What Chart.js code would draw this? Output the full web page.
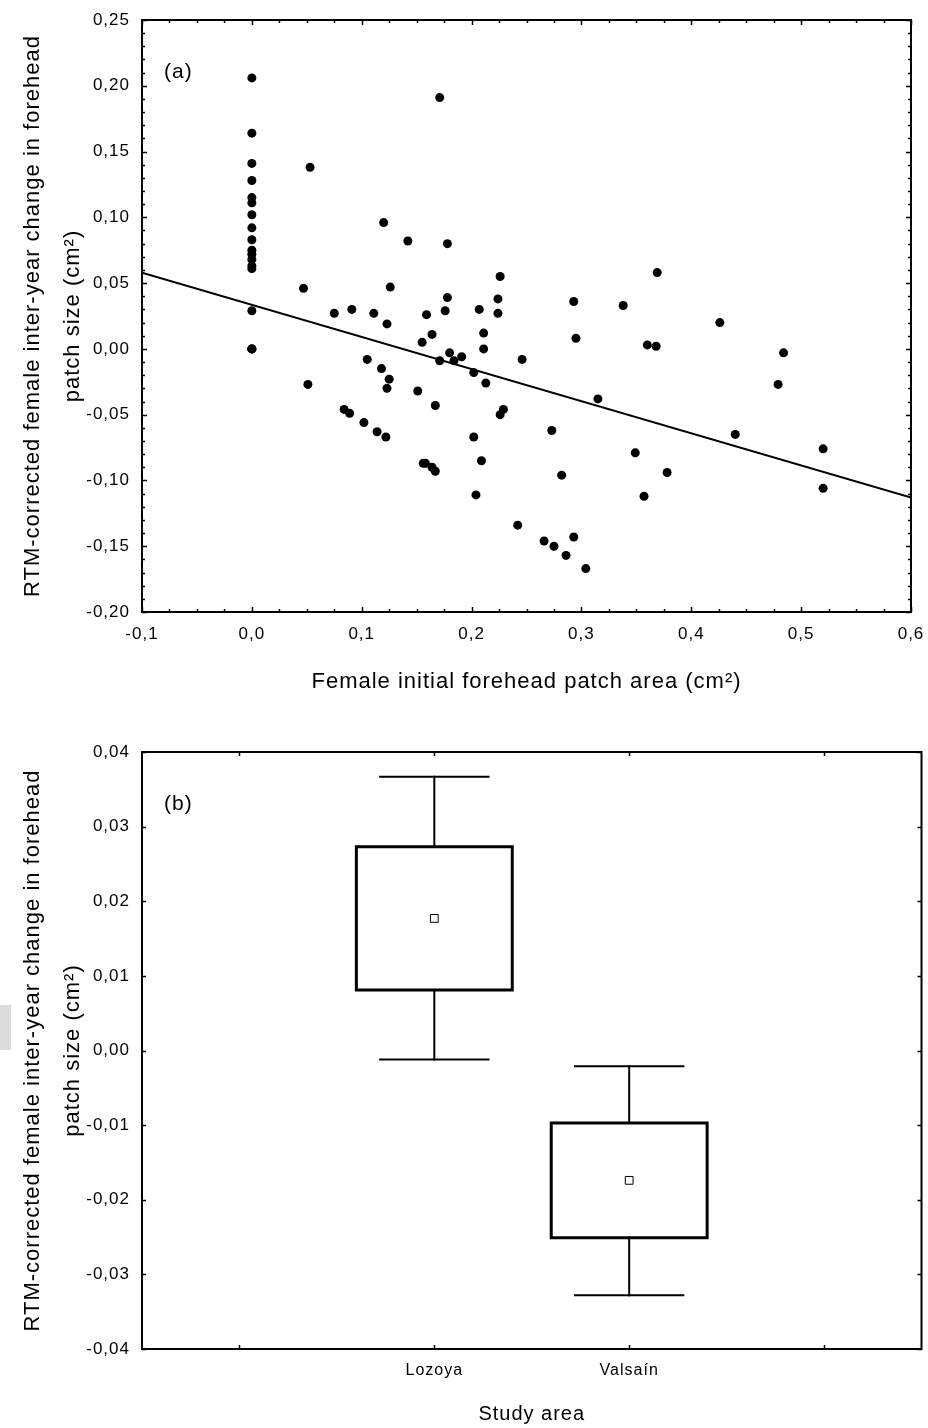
<!DOCTYPE html>
<html>
<head>
<meta charset="utf-8">
<script src="https://cdn.jsdelivr.net/npm/chart.js@4.4.1/dist/chart.umd.min.js"></script>
<style>
body { margin: 0; background: #fff; width: 928px; height: 1428px; position: relative; overflow: hidden; }
#topChart { position: absolute; left: 0; top: 0; }
#boxChart { position: absolute; left: 0; top: 700px; }
#smudge { position: absolute; left: 0; top: 1005px; width: 11px; height: 45px; background: #dcdcdc; }
</style>
</head>
<body>
<div id="smudge"></div>
<canvas id="topChart" width="928" height="700"></canvas>
<canvas id="boxChart" width="928" height="728"></canvas>
<script>
// (a) female initial patch area vs corrected change
var patchArea = [
  0, 0, 0, 0, 0, 0, 0, 0, 0, 0, 0, 0, 0, 0, 0, 0, 0, 0,
  0.053, 0.171, 0.120, 0.047, 0.075, 0.091, 0.111, 0.123, 0.126, 0.105, 0.118, 0.125, 0.123, 0.051, 0.084, 0.089, 0.102, 0.114, 0.122,
  0.142, 0.178, 0.226, 0.178, 0.159, 0.176, 0.207, 0.224, 0.224, 0.293, 0.338, 0.369, 0.164, 0.155, 0.211, 0.211, 0.295, 0.360, 0.368, 0.180, 0.171, 0.184, 0.191, 0.246,
  0.151, 0.167, 0.202, 0.213, 0.229, 0.226, 0.315, 0.273, 0.202, 0.156, 0.158, 0.164, 0.167, 0.209, 0.282, 0.349, 0.357, 0.204, 0.242, 0.266, 0.275, 0.293, 0.286, 0.304,
  0.426, 0.484, 0.479, 0.440, 0.520, 0.378, 0.520
];
var patchChange = [
  0.206, 0.164, 0.141, 0.128, 0.115, 0.111, 0.102, 0.092, 0.083, 0.075, 0.072, 0.068, 0.063, 0.061, 0.029, 0.000, 0.000, 0.000,
  0.138, 0.191, 0.096, 0.046, 0.027, 0.030, 0.027, 0.019, 0.047, -0.008, -0.015, -0.023, -0.030, -0.027, -0.046, -0.049, -0.056, -0.063, -0.067,
  0.082, 0.080, 0.055, 0.039, 0.026, 0.029, 0.030, 0.038, 0.027, 0.036, 0.033, 0.058, 0.011, 0.005, 0.012, 0.000, 0.008, 0.003, 0.002, -0.003, -0.009, -0.009, -0.006, -0.008,
  -0.032, -0.043, -0.018, -0.026, -0.046, -0.050, -0.038, -0.062, -0.067, -0.087, -0.087, -0.090, -0.093, -0.085, -0.096, -0.079, -0.112, -0.111, -0.134, -0.146, -0.150, -0.143, -0.157, -0.167,
  0.020, -0.003, -0.027, -0.065, -0.076, -0.094, -0.106
];
var fitX = [-0.1, 0.6];
var fitY = [0.058, -0.113];

// (b) study areas
var areaNames = ['Lozoya', 'Valsaín'];
var areaPos = [3, 5];
var areaMean = [0.0177, -0.0174];
var boxLow = [0.0081, -0.0251];
var boxHigh = [0.0273, -0.0097];
var whiskLow = [-0.0012, -0.0328];
var whiskHigh = [0.0367, -0.0021];

var yTitle = ['RTM-corrected female inter-year change in forehead', 'patch size (cm²)'];
var fam = '"Liberation Sans", Arial, sans-serif';

Chart.defaults.color = '#000';
Chart.defaults.font.family = fam;

function comma(v, d) {
  var r = Math.round(v * Math.pow(10, d)) / Math.pow(10, d);
  if (r === 0) r = 0;
  return r.toFixed(d).replace('.', ',');
}

function steps(min, max, step, len) {
  var out = [];
  var n = Math.round((max - min) / step);
  for (var i = 0; i <= n; i++) out.push({ v: min + i * step, len: len });
  return out;
}

// keep the plot area where the layout padding puts it
function noOverflow(s) {
  s.paddingLeft = 0; s.paddingRight = 0; s.paddingTop = 0; s.paddingBottom = 0;
}

// ticks drawn inwards on all four sides, plus frame and panel letter
var frameTicks = {
  id: 'frameTicks',
  beforeUpdate: function (chart) { chart.ctx.letterSpacing = '1px'; },
  beforeDraw: function (chart) { chart.ctx.letterSpacing = '1px'; },
  afterDraw: function (chart, args, opts) {
    var ctx = chart.ctx, a = chart.chartArea;
    var xs = chart.scales.x, ys = chart.scales.y;
    ctx.save();
    ctx.strokeStyle = '#000';
    ctx.lineWidth = 1.5;
    ctx.beginPath();
    opts.xTicks.forEach(function (t) {
      var px = Math.round(xs.getPixelForValue(t.v)) + 0.5;
      ctx.moveTo(px, a.bottom); ctx.lineTo(px, a.bottom - t.len);
      ctx.moveTo(px, a.top); ctx.lineTo(px, a.top + t.len);
    });
    opts.yTicks.forEach(function (t) {
      var py = Math.round(ys.getPixelForValue(t.v)) + 0.5;
      ctx.moveTo(a.left, py); ctx.lineTo(a.left + t.len, py);
      ctx.moveTo(a.right, py); ctx.lineTo(a.right - t.len, py);
    });
    ctx.stroke();
    ctx.lineWidth = 2;
    ctx.strokeRect(a.left, a.top, a.right - a.left, a.bottom - a.top);
    ctx.fillStyle = '#000';
    ctx.font = '21px ' + fam;
    ctx.fillText(opts.panel, a.left + 22, a.top + 58);
    ctx.restore();
  }
};

var pts = patchArea.map(function (x, i) { return { x: x, y: patchChange[i] }; });
var fitPts = fitX.map(function (x, i) { return { x: x, y: fitY[i] }; });

new Chart('topChart', {
  type: 'scatter',
  data: {
    datasets: [
      { data: pts, pointRadius: 4.5, backgroundColor: '#000', borderWidth: 0 },
      { type: 'line', data: fitPts, borderColor: '#000', borderWidth: 2, pointRadius: 0, fill: false }
    ]
  },
  options: {
    responsive: false,
    animation: false,
    devicePixelRatio: 1,
    layout: { padding: { top: 20, right: 17, left: 0, bottom: 0 } },
    plugins: {
      legend: { display: false },
      tooltip: { enabled: false },
      frameTicks: {
        panel: '(a)',
        xTicks: steps(-0.1, 0.6, 0.025, 3).concat(steps(-0.1, 0.6, 0.1, 5)),
        yTicks: steps(-0.2, 0.25, 0.01, 3).concat(steps(-0.2, 0.25, 0.05, 5))
      }
    },
    scales: {
      x: {
        type: 'linear', min: -0.1, max: 0.6,
        afterFit: function (s) { s.height = 88; noOverflow(s); },
        grid: { display: false, drawTicks: false },
        border: { display: false },
        ticks: { stepSize: 0.1, padding: 12, font: { size: 17 }, maxRotation: 0, autoSkip: false,
          callback: function (v) { return comma(v, 1); } },
        title: { display: true, text: 'Female initial forehead patch area (cm²)', font: { size: 22 }, padding: { top: 0, bottom: 5 } }
      },
      y: {
        type: 'linear', min: -0.2, max: 0.25,
        afterFit: function (s) { s.width = 142; noOverflow(s); },
        grid: { display: false, drawTicks: false },
        border: { display: false },
        ticks: { stepSize: 0.05, padding: 12, font: { size: 17 },
          callback: function (v) { return comma(v, 2); } },
        title: { display: true, text: yTitle, font: { size: 22, lineHeight: '40px' }, padding: { top: 13, bottom: 0 } }
      }
    }
  },
  plugins: [frameTicks]
});

// box plot pieces built from the arrays
var boxSets = [];
areaPos.forEach(function (p, i) {
  var w = 0.8, c = 0.556;
  boxSets.push({ data: [
    { x: p - w, y: boxLow[i] }, { x: p + w, y: boxLow[i] }, { x: p + w, y: boxHigh[i] },
    { x: p - w, y: boxHigh[i] }, { x: p - w, y: boxLow[i] }
  ], borderWidth: 3 });
  boxSets.push({ data: [{ x: p, y: boxHigh[i] }, { x: p, y: whiskHigh[i] }], borderWidth: 2 });
  boxSets.push({ data: [{ x: p - c, y: whiskHigh[i] }, { x: p + c, y: whiskHigh[i] }], borderWidth: 2 });
  boxSets.push({ data: [{ x: p, y: boxLow[i] }, { x: p, y: whiskLow[i] }], borderWidth: 2 });
  boxSets.push({ data: [{ x: p - c, y: whiskLow[i] }, { x: p + c, y: whiskLow[i] }], borderWidth: 2 });
});
boxSets.forEach(function (d) {
  d.showLine = true; d.borderColor = '#000'; d.pointRadius = 0; d.fill = false;
  d.borderJoinStyle = 'miter'; d.borderCapStyle = 'square';
});
boxSets.push({
  data: areaPos.map(function (p, i) { return { x: p, y: areaMean[i] }; }),
  pointStyle: 'rect', pointRadius: 5.5, backgroundColor: '#fff', borderColor: '#000', borderWidth: 1, showLine: false
});

new Chart('boxChart', {
  type: 'scatter',
  data: { datasets: boxSets },
  options: {
    responsive: false,
    animation: false,
    devicePixelRatio: 1,
    layout: { padding: { top: 52, right: 5, left: 0, bottom: 0 } },
    plugins: {
      legend: { display: false },
      tooltip: { enabled: false },
      frameTicks: {
        panel: '(b)',
        xTicks: [1, 3, 5, 7].map(function (v) { return { v: v, len: 4 }; }),
        yTicks: steps(-0.04, 0.04, 0.01, 4)
      }
    },
    scales: {
      x: {
        type: 'linear', min: 0, max: 8,
        afterFit: function (s) { s.height = 79; noOverflow(s); },
        afterBuildTicks: function (s) { s.ticks = areaPos.map(function (v) { return { value: v }; }); },
        grid: { display: false, drawTicks: false },
        border: { display: false },
        ticks: { padding: 12, font: { size: 16 }, maxRotation: 0, autoSkip: false,
          callback: function (v, i) { return areaNames[i]; } },
        title: { display: true, text: 'Study area', font: { size: 20 }, padding: { top: 0, bottom: 2 } }
      },
      y: {
        type: 'linear', min: -0.04, max: 0.04,
        afterFit: function (s) { s.width = 142; noOverflow(s); },
        grid: { display: false, drawTicks: false },
        border: { display: false },
        ticks: { stepSize: 0.01, padding: 12, font: { size: 17 },
          callback: function (v) { return comma(v, 2); } },
        title: { display: true, text: yTitle, font: { size: 22, lineHeight: '40px' }, padding: { top: 13, bottom: 0 } }
      }
    }
  },
  plugins: [frameTicks]
});
</script>
</body>
</html>
